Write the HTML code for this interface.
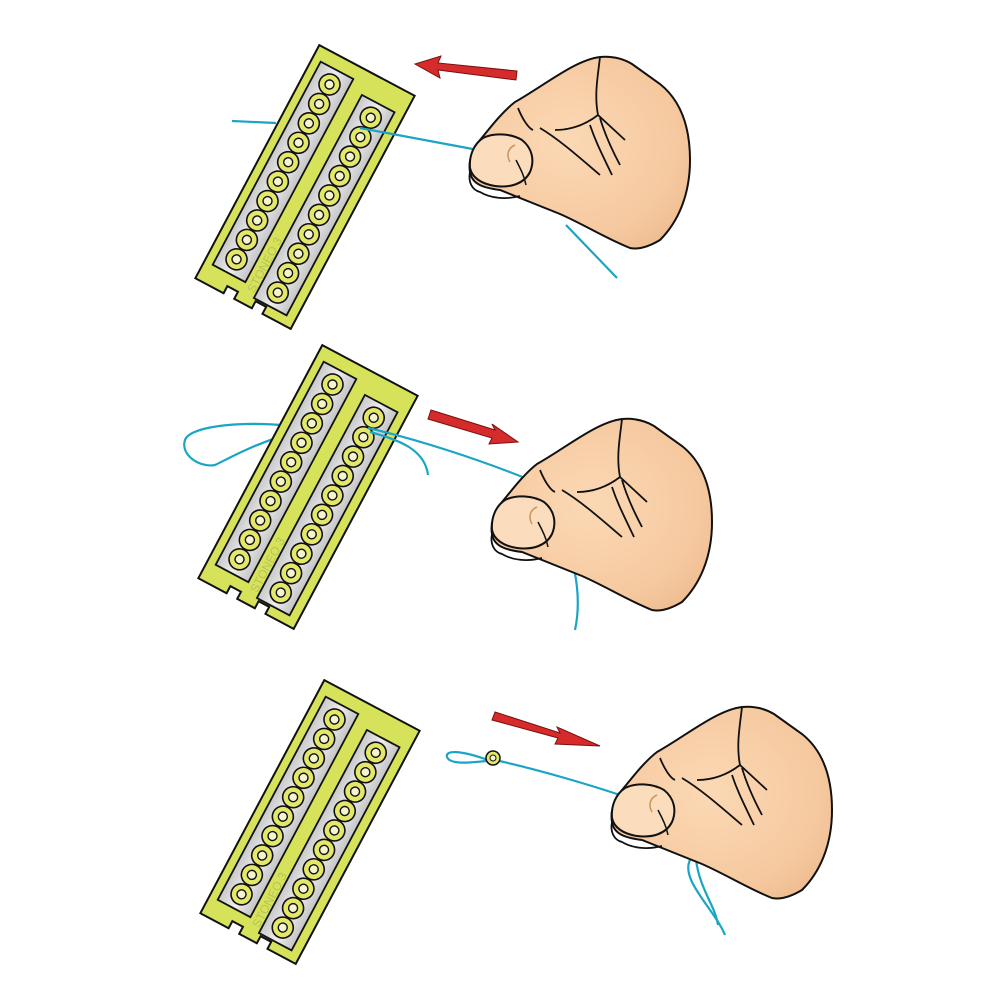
<!DOCTYPE html>
<html><head><meta charset="utf-8"><style>html,body{margin:0;padding:0;background:#fff}svg{display:block}</style></head>
<body>
<svg width="1000" height="1000" viewBox="0 0 1000 1000" xmlns="http://www.w3.org/2000/svg">
<defs>
<linearGradient id="slot" x1="0" y1="0" x2="1" y2="0"><stop offset="0" stop-color="#c9c9cb"/><stop offset="0.5" stop-color="#eeeeee"/><stop offset="1" stop-color="#c4c4c6"/></linearGradient>
<radialGradient id="skin" cx="0.45" cy="0.45" r="0.7"><stop offset="0" stop-color="#fbd9b4"/><stop offset="0.7" stop-color="#f6c9a0"/><stop offset="1" stop-color="#eeb98d"/></radialGradient>
<g id="col">
<g fill="#e4e86a" stroke="#111" stroke-width="1.6">
<circle cx="0" cy="-99" r="10.5"/><circle cx="0" cy="-77" r="10.5"/><circle cx="0" cy="-55" r="10.5"/><circle cx="0" cy="-33" r="10.5"/><circle cx="0" cy="-11" r="10.5"/><circle cx="0" cy="11" r="10.5"/><circle cx="0" cy="33" r="10.5"/><circle cx="0" cy="55" r="10.5"/><circle cx="0" cy="77" r="10.5"/><circle cx="0" cy="99" r="10.5"/>
</g>
<g fill="#f4f4d0" stroke="#111" stroke-width="1.4">
<circle cx="0" cy="-99" r="4.5"/><circle cx="0" cy="-77" r="4.5"/><circle cx="0" cy="-55" r="4.5"/><circle cx="0" cy="-33" r="4.5"/><circle cx="0" cy="-11" r="4.5"/><circle cx="0" cy="11" r="4.5"/><circle cx="0" cy="33" r="4.5"/><circle cx="0" cy="55" r="4.5"/><circle cx="0" cy="77" r="4.5"/><circle cx="0" cy="99" r="4.5"/>
</g>
</g>
<g id="board">
<path d="M-54,-132 L54,-132 L54,132 L22,132 L22,124 L10,124 L10,132 L-10,132 L-10,124 L-22,124 L-22,132 L-54,132 Z" fill="#d6e35a" stroke="#111" stroke-width="2"/>
<rect x="-45" y="-118" width="37" height="230" fill="url(#slot)" stroke="#111" stroke-width="1.8"/>
<rect x="7" y="-108" width="37" height="230" fill="url(#slot)" stroke="#111" stroke-width="1.8"/>
<use href="#col" x="-26.5" y="-3"/>
<use href="#col" x="25.5" y="7"/>
<text x="0" y="0" transform="translate(5,118) rotate(-90)" font-family="Liberation Sans, sans-serif" font-size="12" fill="#b9c25a">STONEO 3</text>
</g>
<g id="hand">
<path d="M515,102 C545,85 575,60 600,57 C612,56 622,58 632,64 L660,84 C680,100 690,125 690,160 C690,195 678,222 660,240 C650,246 640,250 630,248 C605,238 585,225 560,214 C540,206 520,198 500,190 C485,188 472,185 470,172 C468,160 472,150 480,140 C490,128 502,112 515,102 Z" fill="url(#skin)" stroke="#111" stroke-width="2"/>
<path d="M518,108 C522,118 528,128 533,130" fill="none" stroke="#111" stroke-width="1.8"/>
<path d="M600,57 C598,75 594,95 598,115 L625,140" fill="none" stroke="#111" stroke-width="1.8"/>
<path d="M598,115 C585,125 570,130 555,130" fill="none" stroke="#111" stroke-width="1.8"/>
<path d="M600,118 C605,135 612,150 620,165" fill="none" stroke="#111" stroke-width="1.8"/>
<path d="M590,125 C595,140 600,150 612,175" fill="none" stroke="#111" stroke-width="1.8"/>
<path d="M540,128 C560,140 580,158 600,175" fill="none" stroke="#111" stroke-width="1.8"/>
<path d="M483,138 C495,132 512,134 522,140 C532,148 535,160 530,172 C524,184 510,188 495,186 C482,184 472,178 470,168 C469,155 474,144 483,138 Z" fill="#fbdcbc" stroke="#111" stroke-width="2"/>
<path d="M470,172 C468,182 472,190 480,192 C490,198 505,200 520,196" fill="none" stroke="#111" stroke-width="1.8"/>
<path d="M516,160 C520,168 524,175 526,185" fill="none" stroke="#111" stroke-width="1.5"/>
<path d="M515,145 C508,148 506,155 510,162" fill="none" stroke="#c9955f" stroke-width="1.5"/>
</g>
</defs>

<!-- Row 1 -->
<path d="M232,121 L276,123" stroke="#1ba5c4" stroke-width="2.2" fill="none"/>
<use href="#board" transform="translate(305,187) rotate(28)"/>
<path d="M360,128 L478,150" stroke="#1ba5c4" stroke-width="2.2" fill="none"/>
<path d="M566,225 L617,278" stroke="#1ba5c4" stroke-width="2.2" fill="none"/>
<use href="#hand"/>
<path d="M517,71 L438,63 L441,56 L415,64 L440,78 L438,70 L516,80 Z" fill="#d52b2b" stroke="#7a1010" stroke-width="1"/>

<!-- Row 2 -->
<path d="M300,427 C250,420 190,425 185,440 C180,455 200,468 215,465 C230,458 260,440 305,430" stroke="#1ba5c4" stroke-width="2.2" fill="none"/>
<use href="#board" transform="translate(308,487) rotate(28)"/>
<path d="M368,428 C420,440 480,460 525,478" stroke="#1ba5c4" stroke-width="2.2" fill="none"/>
<path d="M370,432 C400,440 425,450 428,475" stroke="#1ba5c4" stroke-width="2.2" fill="none"/>
<path d="M550,470 C540,500 590,560 575,630" stroke="#1ba5c4" stroke-width="2.2" fill="none"/>
<use href="#hand" transform="translate(22,362)"/>
<path d="M431,410 L495,430 L492,424 L518,442 L489,444 L492,438 L428,419 Z" fill="#d52b2b" stroke="#7a1010" stroke-width="1"/>

<!-- Row 3 -->
<use href="#board" transform="translate(310,822) rotate(28)"/>
<path d="M488,760 C460,750 445,750 447,757 C450,765 470,763 495,760 C540,770 590,785 620,795" stroke="#1ba5c4" stroke-width="2.2" fill="none"/>
<circle cx="493" cy="758" r="7" fill="#e4e86a" stroke="#111" stroke-width="1.5"/>
<circle cx="493" cy="758" r="3" fill="#f4f4d0" stroke="#111" stroke-width="1"/>
<path d="M690,860 C680,880 715,910 725,935" stroke="#1ba5c4" stroke-width="2.2" fill="none"/>
<path d="M696,860 C700,890 715,905 718,925" stroke="#1ba5c4" stroke-width="2.2" fill="none"/>
<use href="#hand" transform="translate(142,650)"/>
<path d="M495,712 L560,733 L557,727 L600,746 L555,744 L558,738 L492,720 Z" fill="#d52b2b" stroke="#7a1010" stroke-width="1"/>
</svg>
</body></html>
